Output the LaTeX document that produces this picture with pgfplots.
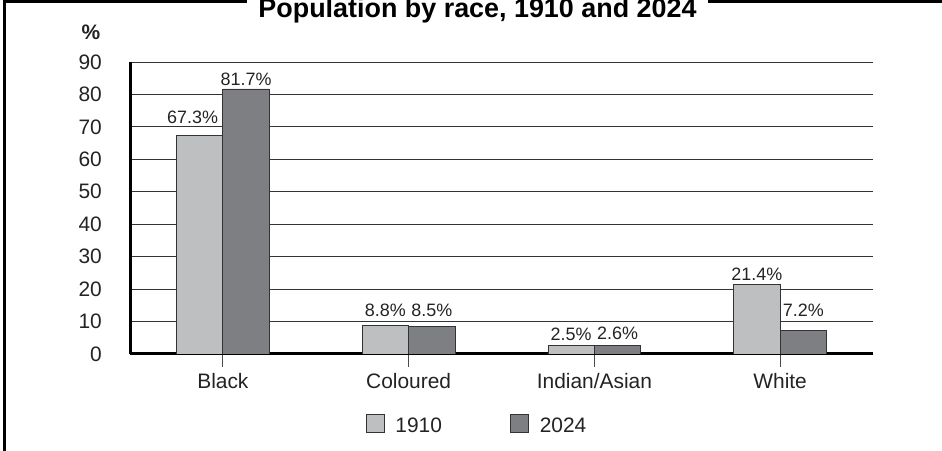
\documentclass[border=0pt]{standalone}
\usepackage{fontspec}
\setmainfont{Liberation Sans}
\usepackage{pgfplots}
\usepackage{pgfplotstable}
\pgfplotsset{compat=1.18}
\definecolor{barlight}{RGB}{190,191,193}
\definecolor{bardark}{RGB}{126,127,130}
\definecolor{ink}{RGB}{35,35,35}
% x = category, y = share in %, dx/dy = label offsets (bp)
\pgfplotstableread{
x y label dx dy
0 67.3 67.3 -7 12
1 8.8 8.8 0 8
2 2.5 2.5 0 5
3 21.4 21.4 0 4
}\yearA
\pgfplotstableread{
x y label dx dy
0 81.7 81.7 0 3
1 8.5 8.5 0 9
2 2.6 2.6 0 5
3 7.2 7.2 0 14
}\yearB
\begin{document}
\begin{tikzpicture}
\path[use as bounding box] (0bp,0bp) rectangle (942bp,451bp);
% frame broken by the title
\draw[line width=3bp] (247bp,449.5bp) -- (4.5bp,449.5bp) -- (4.5bp,0bp);
\draw[line width=3bp] (708bp,449.5bp) -- (942bp,449.5bp);
\node[font=\fontsize{27}{32}\selectfont\bfseries, anchor=base] at (477.5bp,433.5bp) {Population by race, 1910 and 2024};
\node[font=\fontsize{21}{24}\selectfont\bfseries, text=ink] at (91bp,419bp) {\%};
\begin{axis}[
  at={(130bp,97bp)}, anchor=south west,
  scale only axis, width=743bp, height=292bp,
  ybar=0pt, bar width=0.25,
  xmin=-0.5, xmax=3.5, ymin=0, ymax=90,
  xtick={0,1,2,3},
  xticklabels={Black,Coloured,Indian/Asian,White},
  ytick={0,10,...,90},
  axis x line*=bottom, axis y line*=left,
  x axis line style={line width=3bp,-},
  y axis line style={line width=3bp,-},
  ymajorgrids, grid style={black!80, line width=0.8bp},
  tick align=outside, major tick length=13bp,
  ytick style={draw=none},
  xtick style={black!70, line width=0.8bp},
  ticklabel style={font=\fontsize{21}{24}\selectfont, text=ink},
  yticklabel style={inner sep=0pt, xshift=-15bp},
  xticklabel style={yshift=-3bp},
  /pgf/number format/assume math mode=true,
  point meta=explicit symbolic,
  visualization depends on={\thisrow{dx} \as \dx},
  visualization depends on={\thisrow{dy} \as \dy},
  nodes near coords={\pgfplotspointmeta\%},
  nodes near coords style={font=\fontsize{18}{22}\selectfont, text=ink, anchor=south, inner sep=0pt, xshift=\dx bp, yshift=\dy bp},
  legend columns=2,
  legend style={at={(0.467,-0.243)}, anchor=center, draw=none,
    font=\fontsize{21}{24}\selectfont, text=ink,
    /tikz/every odd column/.append style={column sep=9bp},
    /tikz/every even column/.append style={column sep=66bp}},
  legend image code/.code={\draw[#1] (0bp,-7bp) rectangle (18bp,11bp);},
]
\addplot[fill=barlight, draw=black!80, line width=0.8bp, bar shift=-0.125]
  table[x=x, y=y, meta=label] {\yearA};
\addplot[fill=bardark, draw=black!80, line width=0.8bp, bar shift=0.125]
  table[x=x, y=y, meta=label] {\yearB};
\legend{1910,2024}
\end{axis}
\end{tikzpicture}
\end{document}
